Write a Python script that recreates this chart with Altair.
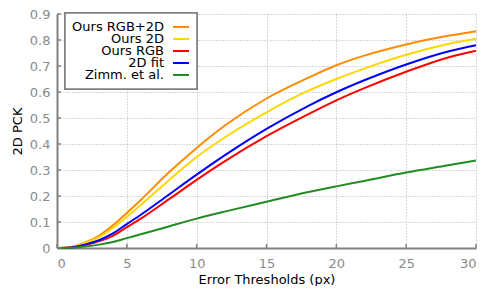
import altair as alt
import pandas as pd

thresholds = [0, 1, 2, 3, 4, 5, 6, 8, 10, 12, 15, 18, 20, 22, 25, 28, 30]
ours_rgb2d = [0, 0.004, 0.021, 0.047, 0.087, 0.135, 0.185, 0.290, 0.385, 0.470, 0.575, 0.655, 0.703, 0.740, 0.783, 0.816, 0.834]
ours_2d = [0, 0.003, 0.019, 0.042, 0.077, 0.120, 0.166, 0.260, 0.350, 0.425, 0.522, 0.605, 0.650, 0.690, 0.743, 0.785, 0.805]
ours_rgb = [0, 0.002, 0.012, 0.026, 0.047, 0.080, 0.113, 0.187, 0.262, 0.333, 0.430, 0.515, 0.568, 0.615, 0.678, 0.733, 0.759]
fit_2d = [0, 0.002, 0.013, 0.030, 0.056, 0.092, 0.128, 0.205, 0.282, 0.356, 0.458, 0.547, 0.599, 0.645, 0.706, 0.756, 0.780]
zimm = [0, 0.001, 0.006, 0.013, 0.023, 0.038, 0.053, 0.083, 0.113, 0.140, 0.178, 0.215, 0.237, 0.258, 0.290, 0.318, 0.337]

names = ["Ours RGB+2D", "Ours 2D", "Ours RGB", "2D fit", "Zimm. et al."]
colors = ["#FF8C00", "#FFD700", "#FF0000", "#0000FF", "#228B22"]
series = [ours_rgb2d, ours_2d, ours_rgb, fit_2d, zimm]

x_ticks = [0, 5, 10, 15, 20, 25, 30]
y_ticks = [0, 0.1, 0.2, 0.3, 0.4, 0.5, 0.6, 0.7, 0.8, 0.9]

rows = []
for i, (n, vals) in enumerate(zip(names, series)):
    for t, v in zip(thresholds, vals):
        rows.append({"series": n, "order": i, "t": t, "v": v})
df = pd.DataFrame(rows)
leg = pd.DataFrame({"series": names})

W, H = 419, 234
FONT = "DejaVu Sans"
color_scale = alt.Scale(domain=names, range=colors)
x_scale = alt.Scale(domain=[0, 30], nice=False)
y_scale = alt.Scale(domain=[0, 0.9], nice=False)
x_axis = alt.Axis(values=x_ticks, title="Error Thresholds (px)", grid=True,
                  ticks=False, labelPadding=9, titlePadding=3)
y_axis = alt.Axis(values=y_ticks, title="2D PCK", grid=True, ticks=False,
                  labelPadding=7, titlePadding=5, labelOverlap=False,
                  labelExpr="datum.value == 0 ? '0' : format(datum.value, '.1f')")

lines = alt.Chart(df).mark_line(strokeWidth=2, interpolate="monotone").encode(
    x=alt.X("t:Q", scale=x_scale, axis=x_axis),
    y=alt.Y("v:Q", scale=y_scale, axis=y_axis),
    color=alt.Color("series:N", scale=color_scale, legend=None),
    order=alt.Order("order:Q"),
    detail="series:N",
)

xt = alt.Chart(pd.DataFrame({"t": x_ticks})).mark_rule(color="#808080", strokeWidth=1.5).encode(
    x=alt.X("t:Q", scale=x_scale, axis=x_axis), y=alt.value(H), y2=alt.value(H - 4))
yt = alt.Chart(pd.DataFrame({"v": y_ticks})).mark_rule(color="#808080", strokeWidth=1.5).encode(
    y=alt.Y("v:Q", scale=y_scale, axis=y_axis), x=alt.value(0), x2=alt.value(4))

plot = alt.layer(lines, xt, yt)

box = alt.Chart(leg).mark_rect(fill="white", stroke="#808080", strokeWidth=1.5).encode(
    x=alt.value(8), x2=alt.value(140), y=alt.value(-1), y2=alt.value(75))

leg_y = alt.Y("series:N", sort=names, scale=alt.Scale(domain=names, range=[7, 67]), axis=None)
leg_text = alt.Chart(leg).mark_text(align="right", baseline="middle", font=FONT, fontSize=13, color="black").encode(
    x=alt.value(107), y=leg_y, text="series:N")
leg_sym = alt.Chart(leg).mark_rule(strokeWidth=2).encode(
    x=alt.value(116), x2=alt.value(132), y=leg_y,
    color=alt.Color("series:N", scale=color_scale, legend=None))

legend = alt.layer(box, leg_text, leg_sym)

chart = alt.layer(plot, legend).resolve_scale(y="independent").properties(
    width=W, height=H,
    autosize=alt.AutoSizeParams(type="none"),
    padding={"left": 49, "top": 6, "right": 8, "bottom": 38},
).configure_view(stroke=None).configure_axis(
    labelFont=FONT, titleFont=FONT, labelFontSize=13, titleFontSize=13,
    labelColor="#8a8a8a", titleColor="black", titleFontWeight="normal",
    domainColor="#808080", domainWidth=2,
    gridColor="#b0b0b0", gridDash=[1, 2], gridWidth=1,
)

chart.save("out.html", embed_options={"renderer": "svg", "actions": False})
